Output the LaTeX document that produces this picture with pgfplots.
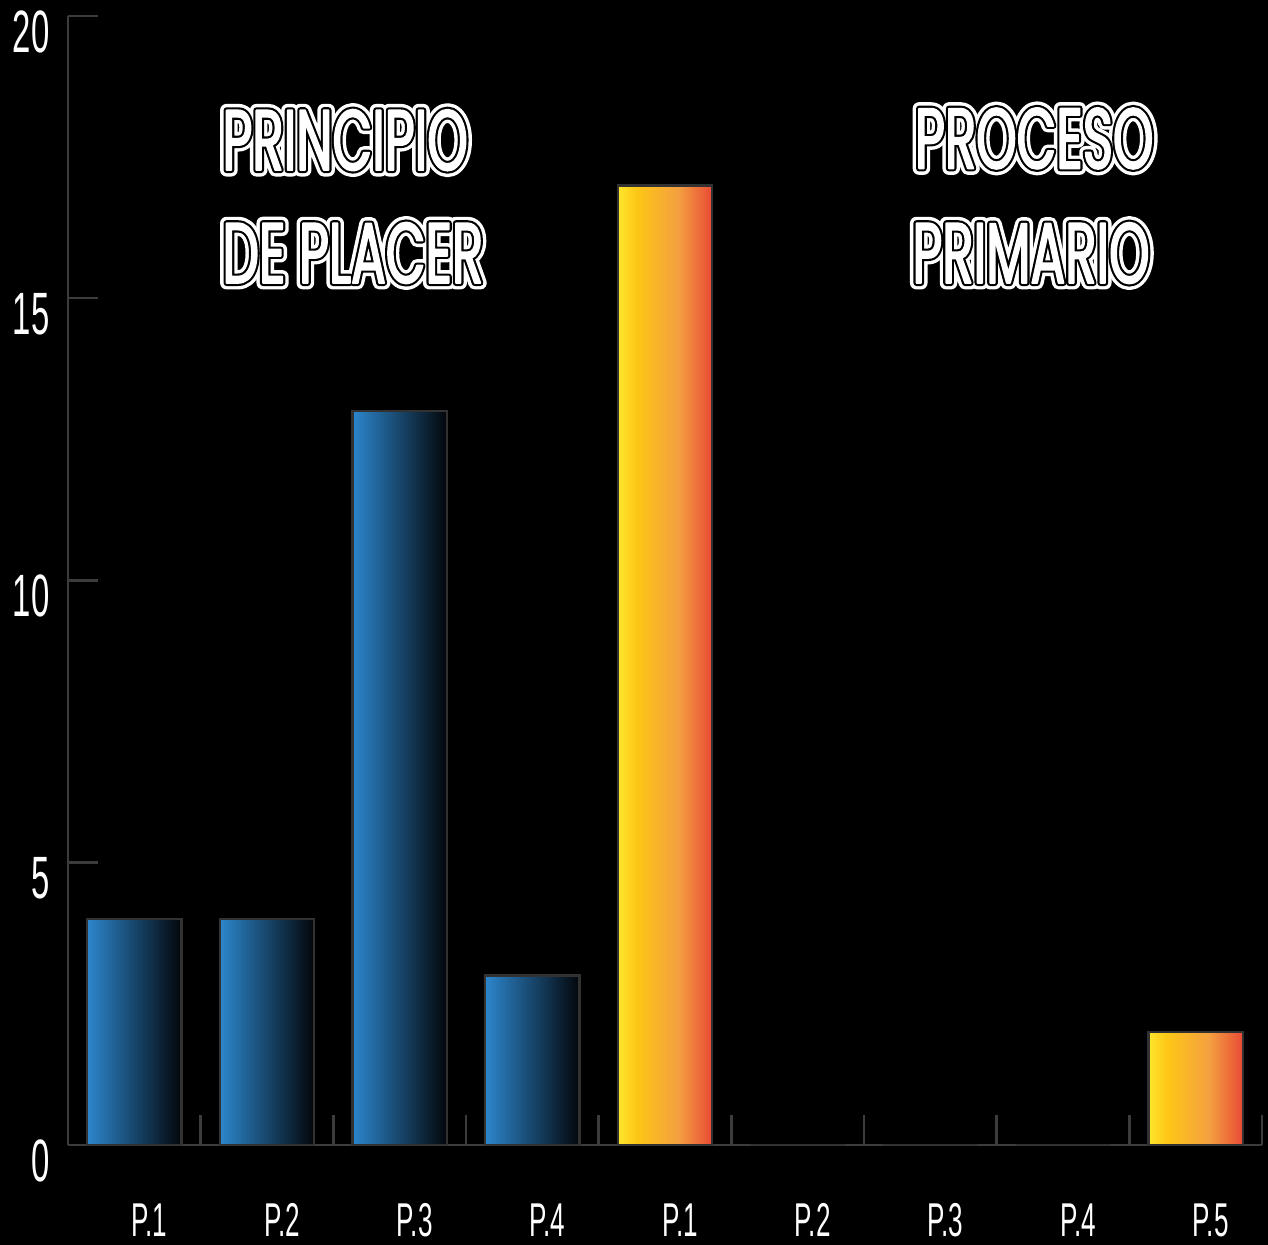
\documentclass[border=0pt]{standalone}
\usepackage{pgfplots}
\pgfplotsset{compat=1.18}
\usepackage{fontspec}
\setmainfont{Liberation Sans}
\newfontfamily\condfont[FakeStretch=0.55]{Liberation Sans}
\newfontfamily\titleA[FakeStretch=0.6,FakeBold=15]{Poppins}
\newfontfamily\titleB[FakeStretch=0.6,FakeBold=7]{Poppins}
\newfontfamily\titleC[FakeStretch=0.6,FakeBold=2]{Poppins}
\definecolor{axisgray}{RGB}{60,60,60}
\definecolor{barline}{RGB}{50,50,50}
\definecolor{blueL}{RGB}{44,134,204}
\definecolor{blueR}{RGB}{3,6,10}
\definecolor{yA}{RGB}{255,230,45}
\definecolor{yB}{RGB}{253,198,22}
\definecolor{yC}{RGB}{244,160,64}
\definecolor{yD}{RGB}{232,74,53}
\pgfdeclarehorizontalshading{yellowred}{100bp}{color(0bp)=(yA); color(25bp)=(yA); color(35bp)=(yB); color(57bp)=(yC); color(75bp)=(yD); color(100bp)=(yD)}
\pgfdeclarehorizontalshading{bluedark}{100bp}{color(0bp)=(blueL); color(25bp)=(blueL); color(75bp)=(blueR); color(100bp)=(blueR)}
\newcommand{\tsize}{\fontsize{24.4pt}{24.4pt}\selectfont}
\newcommand{\outlined}[1]{%
  \pgfsetroundjoin\pgfsetroundcap
  \makebox[0pt][l]{\titleA\tsize\color{white}#1}%
  \makebox[0pt][l]{\titleB\tsize\color{black}#1}%
  {\titleC\tsize\color{white}#1}}
\pgfplotsset{
  bluebar/.style={ybar, bar shift=0pt, bar width=0.71, draw=barline, line width=0.25mm, shade, shading=bluedark},
  yellbar/.style={ybar, bar shift=0pt, bar width=0.71, draw=barline, line width=0.25mm, shade, shading=yellowred},
}
\begin{document}
\begin{tikzpicture}
\useasboundingbox[fill=black] (-6.8mm,-10mm) rectangle (120mm,114.5mm);
\begin{axis}[
  scale only axis, width=119.4mm, height=112.9mm,
  xmin=-0.5, xmax=8.5, ymin=0, ymax=20,
  axis x line*=bottom, axis y line*=left,
  axis line style={draw=axisgray, line width=0.25mm, -},
  xtick={0,...,8},
  xticklabels={P.1,P.2,P.3,P.4,P.1,P.2,P.3,P.4,P.5},
  minor xtick={-0.5,0.5,...,8.5},
  major x tick style={draw=none},
  ytick={0,5,10,15,20},
  major tick length=3mm, minor tick length=3mm,
  tick style={draw=axisgray, line width=0.25mm},
  tick align=inside, xtick align=inside, ytick align=inside,
  /pgf/number format/assume math mode=true,
  yticklabel style={font=\condfont\fontsize{17pt}{17pt}\selectfont, text=white, anchor=north east, inner sep=0pt, xshift=-1.8mm, yshift=0.6mm},
  xticklabel style={font=\condfont\fontsize{13.5pt}{13.5pt}\selectfont, text=white, anchor=north, inner sep=0pt, yshift=-5.8mm, xshift=1.5mm},
  clip=false,
]
% PRINCIPIO DE PLACER
\addplot[bluebar] coordinates {(0,4)};
\addplot[bluebar] coordinates {(1,4)};
\addplot[bluebar] coordinates {(2,13)};
\addplot[bluebar] coordinates {(3,3)};
% PROCESO PRIMARIO
\addplot[yellbar] coordinates {(4,17)};
\addplot[ybar, bar shift=0pt, bar width=0.71, draw=barline, line width=0.25mm, fill=none]
  coordinates {(5,0) (6,0) (7,0)};
\addplot[yellbar] coordinates {(8,2)};
\node[anchor=base west, inner sep=0pt] at (axis cs:0.66,17.27) {\outlined{PRINCIPIO}};
\node[anchor=base west, inner sep=0pt] at (axis cs:0.66,15.27) {\outlined{DE PLACER}};
\node[anchor=base west, inner sep=0pt] at (axis cs:5.88,17.30) {\outlined{PROCESO}};
\node[anchor=base west, inner sep=0pt] at (axis cs:5.86,15.27) {\outlined{PRIMARIO}};
\end{axis}
\end{tikzpicture}
\end{document}
